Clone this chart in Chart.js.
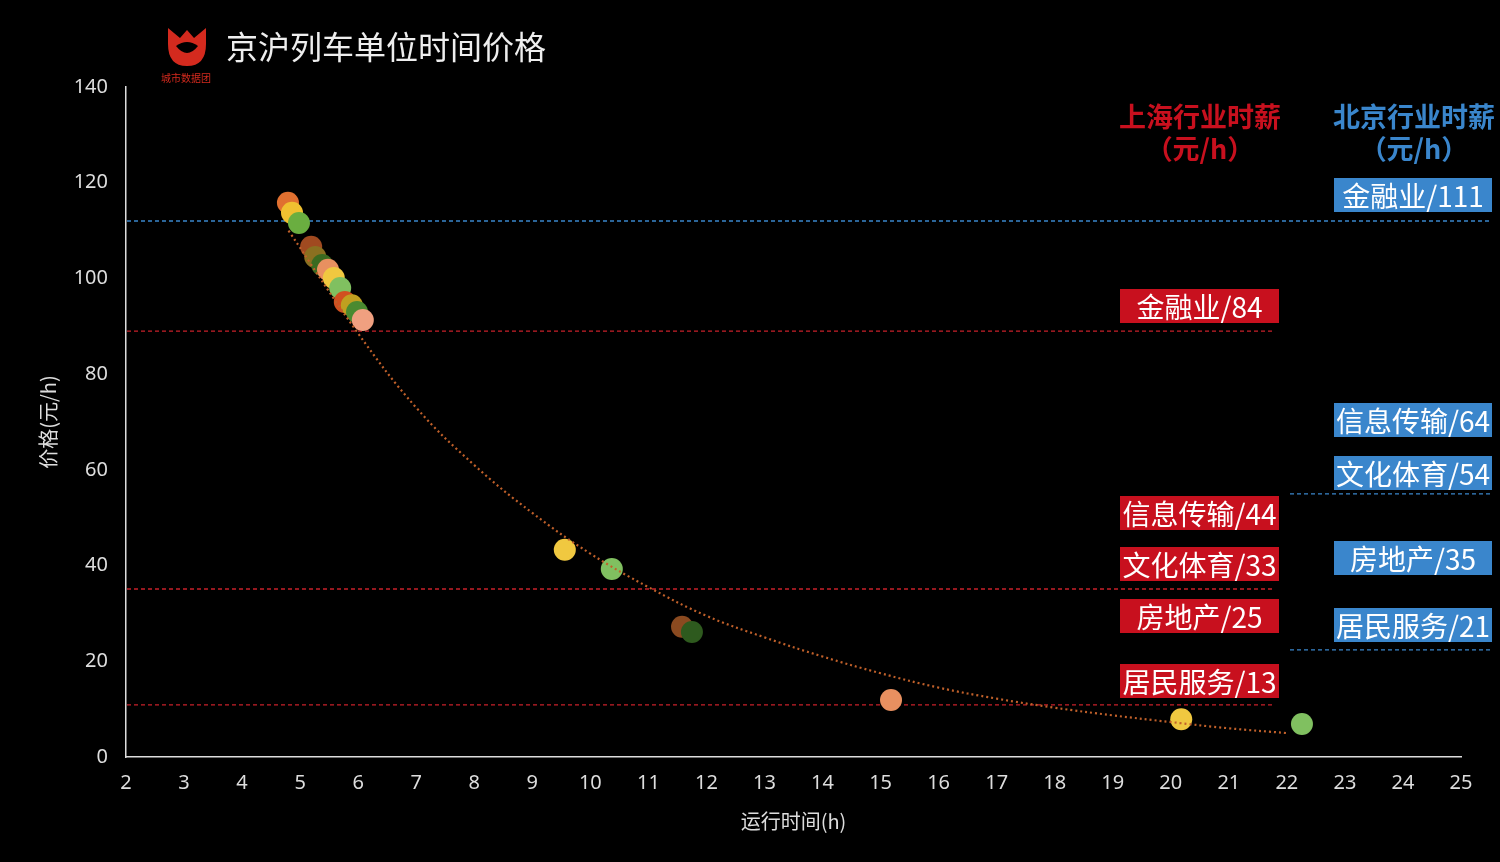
<!DOCTYPE html>
<html><head><meta charset="utf-8">
<script src="https://cdn.jsdelivr.net/npm/chart.js@4"></script>
<style>
body{margin:0;background:#000;width:1500px;height:862px;overflow:hidden;font-family:"Noto Sans CJK SC","Noto Sans",sans-serif;}
#wrap{position:absolute;left:0;top:0;width:1500px;height:862px;}
.lab{position:absolute;color:#fff;font-size:28px;line-height:34px;height:34px;text-align:center;}
.r{background:#c8101e;}
.b{background:#3a86cc;}
.hd{position:absolute;font-size:27px;font-weight:bold;line-height:32px;text-align:center;}
</style></head><body>
<div id="wrap"><canvas id="c" width="1500" height="862"></canvas></div>
<svg style="position:absolute;left:164px;top:24px" width="46" height="46" viewBox="0 0 46 46">
<path d="M4 4 L16 14 L23 6 L30 14 L42 4 L42 20 Q42 42 23 42 Q4 42 4 20 Z" fill="#d42a1e"/>
<path d="M12 22 Q23 14 34 22 Q23 36 12 22 Z" fill="#000"/>
</svg>
<div style="position:absolute;left:161px;top:70px;color:#d42a1e;font-size:10px;">城市数据团</div>
<div style="position:absolute;left:226px;top:22px;color:#eee;font-size:32px;">京沪列车单位时间价格</div>
<div class="hd" style="left:1110px;top:100px;width:180px;color:#c8101e">上海行业时薪<br>（元/h）</div>
<div class="hd" style="left:1328px;top:100px;width:172px;color:#3a86cc">北京行业时薪<br>（元/h）</div>
<div class="lab b" style="left:1334px;top:178px;width:158px">金融业/111</div>
<div class="lab r" style="left:1120px;top:289px;width:159px">金融业/84</div>
<div class="lab b" style="left:1334px;top:403px;width:158px">信息传输/64</div>
<div class="lab b" style="left:1334px;top:456px;width:158px">文化体育/54</div>
<div class="lab r" style="left:1120px;top:496px;width:159px">信息传输/44</div>
<div class="lab b" style="left:1334px;top:541px;width:158px">房地产/35</div>
<div class="lab r" style="left:1120px;top:547px;width:159px">文化体育/33</div>
<div class="lab r" style="left:1120px;top:599px;width:159px">房地产/25</div>
<div class="lab b" style="left:1334px;top:608px;width:158px">居民服务/21</div>
<div class="lab r" style="left:1120px;top:664px;width:159px">居民服务/13</div>
<script>
const hours=[4.79,4.86,4.98,5.19,5.26,5.38,5.48,5.58,5.69,5.77,5.89,5.98,6.08,9.56,10.37,11.58,11.75,15.18,20.18,22.26];
const prices=[115.8,113.7,111.6,106.6,104.5,102.8,101.8,100.1,98.0,95.1,94.4,93.0,91.3,43.3,39.3,27.2,26.1,11.9,7.9,6.9];
const colors=['#e07030','#f0c030','#6aae40','#a04a20','#8a7020','#3a6a20','#e89060','#f0c840','#80c060','#d05020','#c0a020','#4a8a30','#f0a080','#f0c840','#80c060','#8a4a20','#2e5a1e','#e89060','#f0c840','#80c060'];
const trendX=[4.8,6,7,8,9,10,11,12,13,14,15,16,17,18,19,20,21,22];
const trendY=[110,88.5,73,61,51,42.5,35.5,29.5,25,21,17.5,14.5,12.2,10.3,8.7,7.3,6,5];
const shLines=[89,35.1,10.9];
const bjLines=[112];
const bjShort=[55,22.4];
const xTicks=[];for(let i=2;i<=25;i++)xTicks.push(i);
const lines={id:'lines',beforeDatasetsDraw(ch){
 const c=ch.ctx,y=ch.scales.y;c.save();c.lineWidth=1.3;c.setLineDash([4,3]);
 c.strokeStyle='#c8202a';shLines.forEach(v=>{const p=y.getPixelForValue(v);c.beginPath();c.moveTo(127,p);c.lineTo(1272,p);c.stroke();});
 c.strokeStyle='#3a86cc';bjLines.forEach(v=>{const p=y.getPixelForValue(v);c.beginPath();c.moveTo(127,p);c.lineTo(1490,p);c.stroke();});
 bjShort.forEach(v=>{const p=y.getPixelForValue(v);c.beginPath();c.moveTo(1290,p);c.lineTo(1490,p);c.stroke();});
 c.restore();}};
new Chart(document.getElementById('c'),{
 data:{datasets:[
  {type:'line',data:trendX.map((x,i)=>({x,y:trendY[i]})),borderColor:'#c0602a',borderWidth:2.2,borderDash:[2,3],pointRadius:0,tension:0.4,fill:false},
  {type:'scatter',data:hours.map((x,i)=>({x,y:prices[i]})),backgroundColor:colors,borderWidth:0,pointRadius:11}
 ]},
 options:{responsive:false,animation:false,events:[],
  layout:{padding:{left:32,right:39,top:87,bottom:25}},
  plugins:{legend:{display:false},tooltip:{enabled:false}},
  scales:{
   x:{type:'linear',min:2,max:25,afterBuildTicks(s){s.ticks=xTicks.map(v=>({value:v}));},
      afterFit(s){s.height=80;},
      grid:{display:false,drawTicks:false},border:{color:'#ddd',width:1.5},
      ticks:{color:'#ddd',font:{size:20,family:'Noto Sans'},padding:14,autoSkip:false,maxRotation:0},
      title:{display:true,text:'运行时间(h)',color:'#ddd',font:{size:20,family:'Noto Sans CJK SC'},padding:{top:6}}},
   y:{min:0,max:140,afterFit(s){s.width=94;},
      grid:{display:false,drawTicks:false},border:{color:'#ddd',width:1.5},
      ticks:{stepSize:20,color:'#ddd',font:{size:20,family:'Noto Sans'},padding:18},
      title:{display:true,text:'价格(元/h)',color:'#ddd',font:{size:20,family:'Noto Sans CJK SC'},padding:{bottom:4}}}
  }},
 plugins:[lines]});
</script></body></html>
